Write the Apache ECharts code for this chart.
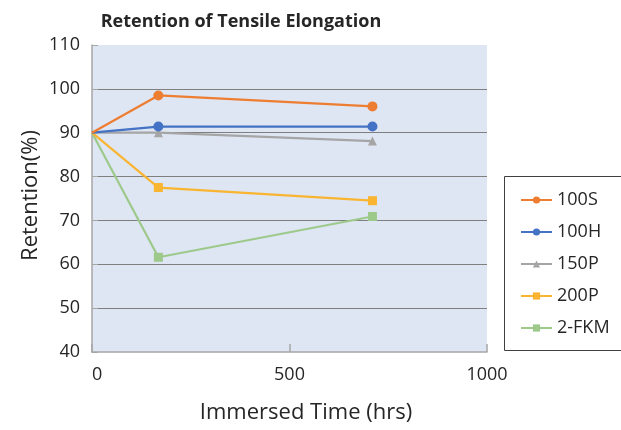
<!DOCTYPE html>
<html><head><meta charset="utf-8">
<script src="https://cdn.jsdelivr.net/npm/echarts@6/dist/echarts.min.js"></script>
<style>html,body{margin:0;padding:0;background:#fff}#c{width:621px;height:430px}</style>
</head><body><div id="c"></div>
<script>
const hours = [0, 168, 710];
const s100S = [90, 98.5, 96.0];
const s100H = [90, 91.4, 91.4];
const s150P = [90, 90.0, 88.1];
const s200P = [90, 77.5, 74.5];
const s2FKM = [90, 61.6, 70.9];
const names = ['100S', '100H', '150P', '200P', '2-FKM'];
const colors = ['#ED7D31', '#4472C4', '#A5A5A5', '#F9B531', '#9DC98B'];
const symbols = ['circle', 'circle', 'triangle', 'rect', 'rect'];
const values = [s100S, s100H, s150P, s200P, s2FKM];
const yTicks = [40, 50, 60, 70, 80, 90, 100, 110];
const xTicks = [0, 500, 1000];

const font = '"Open Sans", "Noto Sans", sans-serif';
const chart = echarts.init(document.getElementById('c'));
chart.setOption({
  animation: false,
  textStyle: { fontFamily: font },
  title: {
    text: 'Retention of Tensile Elongation',
    left: 236, top: 8, textAlign: 'center',
    textStyle: { fontSize: 18, fontWeight: 'bold', color: '#262626', fontFamily: font }
  },
  legend: {
    orient: 'vertical', left: 515, top: 186, itemGap: 14,
    itemWidth: 31, itemHeight: 9,
    data: names,
    textStyle: { fontSize: 18, color: '#262626', fontFamily: font }
  },
  graphic: [{
    type: 'rect', shape: { x: 504.5, y: 176.5, width: 140, height: 174 },
    style: { fill: 'none', stroke: '#404040', lineWidth: 1 }, z: -1
  }],
  grid: { left: 92, right: 134, top: 45, bottom: 78, show: true, backgroundColor: '#DFE6F3', borderWidth: 0 },
  xAxis: {
    type: 'value', min: 0, max: 1000, interval: 500,
    name: 'Immersed Time (hrs)', nameLocation: 'middle', nameGap: 50,
    nameTextStyle: { fontSize: 22, color: '#262626', padding: [0, 0, 0, 33] },
    axisLine: { show: true, lineStyle: { color: '#A6A6A6', width: 1.5 } },
    axisTick: { show: true, inside: true, length: 8, lineStyle: { color: '#A6A6A6', width: 1.5 } },
    axisLabel: { fontSize: 18, color: '#262626', margin: 14, alignMinLabel: 'left',
      formatter: v => xTicks.includes(v) ? String(v) : '' },
    splitLine: { show: false }
  },
  yAxis: {
    type: 'value', min: 40, max: 110, interval: 10,
    name: 'Retention(%)', nameLocation: 'middle', nameGap: 50, nameMoveOverlap: false,
    nameTextStyle: { fontSize: 22, color: '#262626', padding: [0, 0, 0, 6] },
    axisLine: { show: true, lineStyle: { color: '#A6A6A6', width: 1.5 } },
    axisTick: { show: true, inside: true, length: 6, lineStyle: { color: '#A6A6A6' } },
    axisLabel: { fontSize: 18, color: '#262626', margin: 12,
      formatter: v => yTicks.includes(v) ? String(v) : '' },
    splitLine: { show: true, showMaxLine: false, showMinLine: false, lineStyle: { color: '#7F7F7F', width: 1 } }
  },
  series: names.map((n, i) => ({
    name: n, type: 'line',
    data: hours.map((h, j) => [h, values[i][j]]),
    symbol: symbols[i],
    symbolSize: (v, p) => p.dataIndex === 0 ? 0 : (symbols[i] === 'circle' ? 10 : 9),
    showSymbol: true,
    lineStyle: { color: colors[i], width: 2.2 },
    itemStyle: { color: colors[i] },
    z: 10 - i
  }))
});
</script>
</body></html>
